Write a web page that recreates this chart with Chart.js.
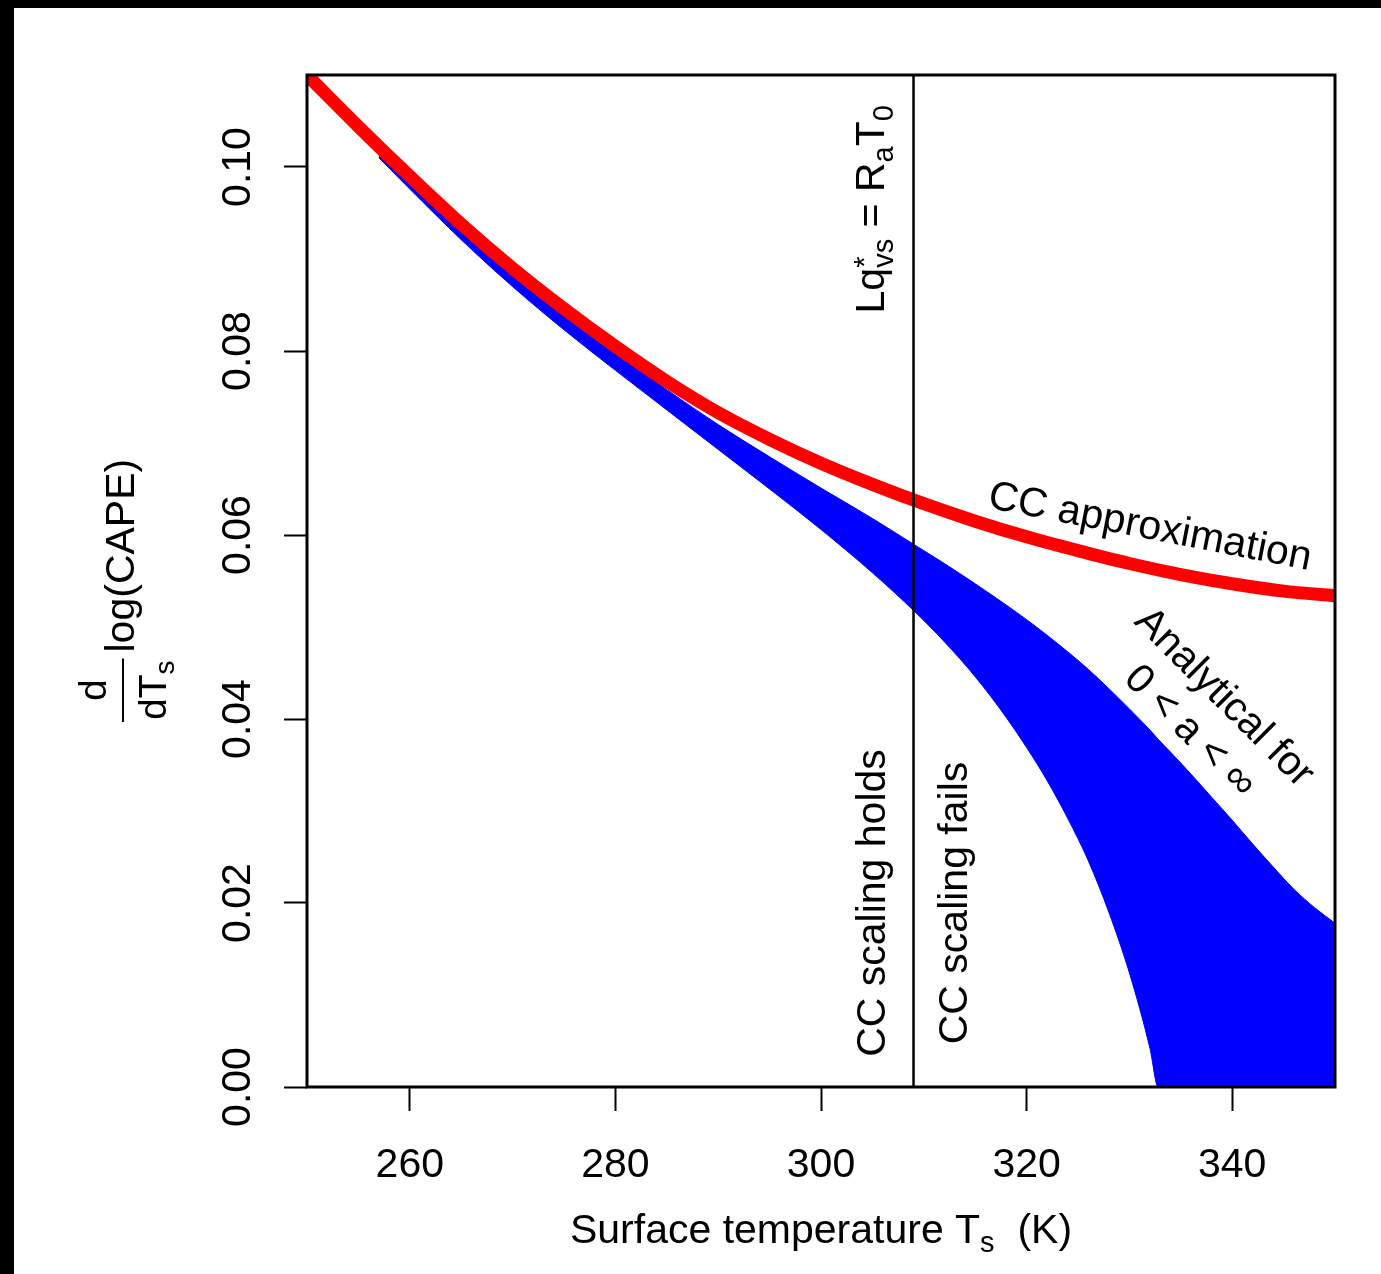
<!DOCTYPE html>
<html><head><meta charset="utf-8">
<script src="https://cdn.jsdelivr.net/npm/chart.js@4.4.1/dist/chart.umd.min.js"></script>
<style>
html,body{margin:0;padding:0;background:#000;width:1381px;height:1274px;overflow:hidden;}
#wrap{position:absolute;left:14px;top:8px;width:1367px;height:1266px;background:#fff;}
canvas{display:block;}
</style></head><body>
<div id="wrap"><canvas id="c" width="1367" height="1266"></canvas></div>
<script>
// ---- data ----
const xTicks = [260, 280, 300, 320, 340];
const yTicks = [0, 0.02, 0.04, 0.06, 0.08, 0.10];
const yTickLabels = ['0.00', '0.02', '0.04', '0.06', '0.08', '0.10'];

// CC approximation (red curve)
const tRed = [250,255,260,265,270,275,280,285,290,295,300,305,310,315,320,325,330,335,340,345,350];
const ccApprox = [0.1100,0.1044,0.0990,0.0938,0.0890,0.0846,0.0805,0.0767,0.0733,0.0704,0.0678,0.0655,0.0634,0.0615,0.0598,0.0583,0.0569,0.0557,0.0547,0.0539,0.0534];

// Analytical band for 0 < a < inf (blue)
const tBand = [257,260,265,270,275,280,285,290,295,300,305,309,312,315,318,320,322,324,326,328,330,332,332.8,334,336,338,340,342,344,346,348,350];
const bandUpper = [0.1018,0.0987,0.0936,0.0888,0.0842,0.0798,0.0758,0.0720,0.0685,0.0651,0.0618,0.0590,0.0569,0.0547,0.0524,0.0508,0.0491,0.0473,0.0454,0.0433,0.0411,0.0388,0.0378,0.0364,0.0340,0.0315,0.0290,0.0264,0.0239,0.0215,0.0195,0.0178];
const bandLower = [0.1010,0.0976,0.0921,0.0870,0.0823,0.0779,0.0736,0.0693,0.0650,0.0606,0.0559,0.0518,0.0484,0.0446,0.0402,0.0369,0.0333,0.0292,0.0246,0.0190,0.0124,0.0042,0,0,0,0,0,0,0,0,0,0];

// boundary where L q*_vs = R_a T_0
const tBoundary = 309;

const FONT = '"Liberation Sans", Arial, Helvetica, sans-serif';
const f = s => s + 'px ' + FONT;

function drawParts(ctx, parts, x, y) {
  let cx = x;
  for (const p of parts) {
    ctx.font = f(p.size);
    ctx.fillText(p.t, cx, y + (p.dy || 0));
    let w = ctx.measureText(p.t).width;
    if (p.sup) {
      ctx.font = f(p.sup.size);
      ctx.fillText(p.sup.t, cx, y + p.sup.dy);
      w = Math.max(w, ctx.measureText(p.sup.t).width);
    }
    cx += w;
  }
  return cx - x;
}
function partsWidth(ctx, parts) {
  let w = 0;
  for (const p of parts) {
    ctx.font = f(p.size);
    let pw = ctx.measureText(p.t).width;
    if (p.sup) { ctx.font = f(p.sup.size); pw = Math.max(pw, ctx.measureText(p.sup.t).width); }
    w += pw;
  }
  return w;
}

const annot = {
  id: 'annot',
  afterDraw(chart) {
    const ctx = chart.ctx, a = chart.chartArea, xs = chart.scales.x, ys = chart.scales.y;
    ctx.save();
    ctx.strokeStyle = '#000';
    ctx.lineWidth = 3;
    ctx.strokeRect(a.left, a.top, a.right - a.left, a.bottom - a.top);

    ctx.fillStyle = '#000';
    ctx.textBaseline = 'alphabetic';
    // y tick labels (rotated, R style)
    ctx.font = f(41);
    ctx.textAlign = 'center';
    yTicks.forEach((v, i) => {
      ctx.save();
      ctx.translate(a.left - 57, ys.getPixelForValue(v));
      ctx.rotate(-Math.PI / 2);
      ctx.fillText(yTickLabels[i], 0, 0);
      ctx.restore();
    });
    ctx.textAlign = 'left';

    // x title
    const xt = [{t: 'Surface temperature T', size: 41}, {t: 's', size: 29, dy: 9}, {t: '  (K)', size: 41}];
    const xw = partsWidth(ctx, xt);
    drawParts(ctx, xt, (a.left + a.right) / 2 - xw / 2, a.bottom + 156);

    // y title: d/dT_s log(CAPE)
    ctx.save();
    ctx.translate(a.left - 184, ys.getPixelForValue(0) - 365);
    ctx.rotate(-Math.PI / 2);
    const den = [{t: 'dT', size: 39}, {t: 's', size: 28, dy: 8}];
    const dw = partsWidth(ctx, den);
    const barLen = dw + 4;
    ctx.lineWidth = 2;
    ctx.beginPath(); ctx.moveTo(0, 0); ctx.lineTo(barLen, 0); ctx.stroke();
    ctx.font = f(39);
    ctx.textAlign = 'center';
    ctx.fillText('d', barLen / 2, -17);
    ctx.textAlign = 'left';
    drawParts(ctx, den, barLen / 2 - dw / 2, 43);
    ctx.font = f(41);
    ctx.fillText('log(CAPE)', barLen + 6, 11);
    ctx.restore();

    const bx = xs.getPixelForValue(tBoundary);
    // Lq*_vs = R_a T_0
    const lq = [{t: 'L', size: 41}, {t: 'q', size: 41}, {t: 'vs', size: 29, dy: 9, sup: {t: '*', size: 29, dy: -10}},
                {t: ' = ', size: 41}, {t: 'R', size: 41}, {t: 'a', size: 29, dy: 9}, {t: 'T', size: 41}, {t: '0', size: 29, dy: 9}];
    ctx.save();
    ctx.translate(bx - 30, ys.getPixelForValue(0.0954));
    ctx.rotate(-Math.PI / 2);
    drawParts(ctx, lq, -partsWidth(ctx, lq) / 2, 0);
    ctx.restore();

    ctx.font = f(41);
    ctx.textAlign = 'center';
    ctx.save();
    ctx.translate(bx - 29, ys.getPixelForValue(0.0200));
    ctx.rotate(-Math.PI / 2);
    ctx.fillText('CC scaling holds', 0, 0);
    ctx.restore();
    ctx.save();
    ctx.translate(bx + 53, ys.getPixelForValue(0.0200));
    ctx.rotate(-Math.PI / 2);
    ctx.fillText('CC scaling fails', 0, 0);
    ctx.restore();

    ctx.textBaseline = 'middle';
    ctx.save();
    ctx.translate(xs.getPixelForValue(332.0), ys.getPixelForValue(0.0608));
    ctx.rotate(11 * Math.PI / 180);
    ctx.fillText('CC approximation', 0, 0);
    ctx.restore();

    ctx.save();
    ctx.translate(xs.getPixelForValue(339.2), ys.getPixelForValue(0.0423));
    ctx.rotate(45 * Math.PI / 180);
    ctx.fillText('Analytical for', 0, 0);
    ctx.fillText('0 < a < \u221E', 0, 48);
    ctx.restore();

    ctx.restore();
  }
};

const pts = (xs, ys) => xs.map((x, i) => ({x, y: ys[i]}));

new Chart(document.getElementById('c'), {
  type: 'line',
  data: {
    datasets: [
      {label: 'lower', data: pts(tBand, bandLower), borderColor: '#0000FF', borderWidth: 1, pointRadius: 0,
       fill: false, cubicInterpolationMode: 'monotone', order: 3, clip: 0},
      {label: 'Analytical for 0 < a < \u221E', data: pts(tBand, bandUpper), borderColor: '#0000FF', borderWidth: 1, pointRadius: 0,
       fill: '-1', backgroundColor: '#0000FF', cubicInterpolationMode: 'monotone', order: 2, clip: 0},
      {label: 'CC approximation', data: pts(tRed, ccApprox), borderColor: '#FF0000', borderWidth: 13, pointRadius: 0,
       fill: false, cubicInterpolationMode: 'monotone', order: 1, clip: 0, borderCapStyle: 'round', borderJoinStyle: 'round'},
      {label: 'boundary', data: [{x: tBoundary, y: 0}, {x: tBoundary, y: 0.11}], borderColor: '#000', borderWidth: 2.5,
       pointRadius: 0, fill: false, order: 0, clip: 0}
    ]
  },
  options: {
    responsive: false,
    animation: false,
    devicePixelRatio: 1,
    layout: {padding: {left: 0, right: 46, top: 67, bottom: 0}},
    plugins: {legend: {display: false}, tooltip: {enabled: false}},
    scales: {
      x: {
        type: 'linear', min: 250, max: 350,
        afterBuildTicks: s => { s.ticks = xTicks.map(v => ({value: v})); },
        afterFit: s => { s.height = 187; },
        grid: {drawOnChartArea: false, drawTicks: true, tickLength: 24, tickWidth: 2, tickColor: '#000'},
        border: {display: false},
        ticks: {color: '#000', font: {family: FONT, size: 41, lineHeight: 1}, padding: 34, maxRotation: 0, autoSkip: false}
      },
      y: {
        type: 'linear', min: 0, max: 0.11,
        afterBuildTicks: s => { s.ticks = yTicks.map(v => ({value: v})); },
        afterFit: s => { s.width = 293; },
        grid: {drawOnChartArea: false, drawTicks: true, tickLength: 23, tickWidth: 2, tickColor: '#000'},
        border: {display: false},
        ticks: {display: false}
      }
    }
  },
  plugins: [annot]
});
</script>
</body></html>
